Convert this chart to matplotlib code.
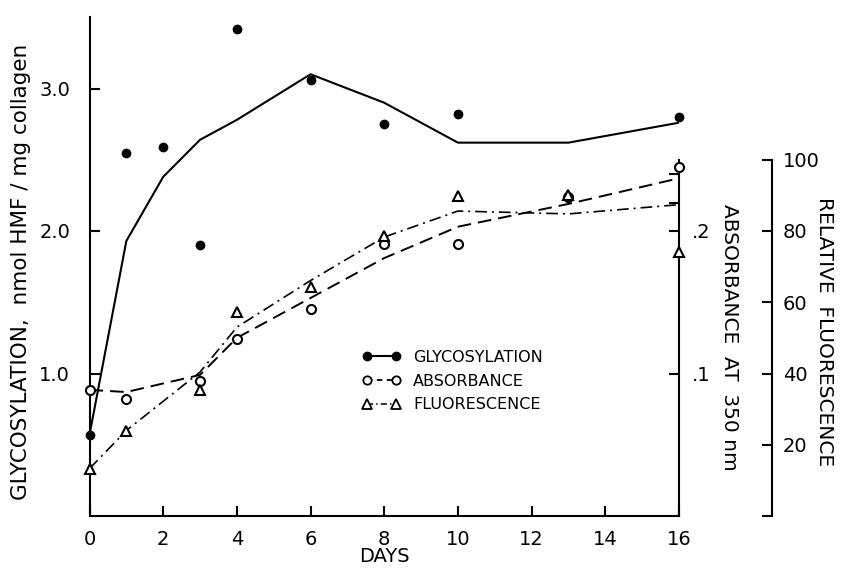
import matplotlib
matplotlib.use('Agg')
import matplotlib.pyplot as plt
from matplotlib.lines import Line2D

# values
days_glyco = [0, 1, 2, 3, 4, 6, 8, 10, 13, 16]
glyco_pts = [0.57, 2.55, 2.59, 1.90, 3.42, 3.06, 2.75, 2.82, 2.24, 2.80]
glyco_fit = [0.57, 1.93, 2.38, 2.64, 2.78, 3.10, 2.90, 2.62, 2.62, 2.76]

days = [0, 1, 3, 4, 6, 8, 10, 13, 16]
absorb_pts = [0.0886, 0.082, 0.095, 0.124, 0.145, 0.191, 0.191, 0.224, 0.245]
absorb_fit = [0.0885, 0.087, 0.099, 0.125, 0.153, 0.181, 0.203, 0.219, 0.237]
fluor_pts = [13.2, 24.0, 35.4, 57.2, 64.4, 78.7, 89.7, 90.0, 74.0]
fluor_fit = [13.3, 24.0, 40.4, 53.0, 66.1, 78.3, 85.6, 84.8, 87.4]

xticks = [0, 2, 4, 6, 8, 10, 12, 14, 16]
glyco_ticks = [1.0, 2.0, 3.0]
absorb_ticks = [0.1, 0.2, 0.22, 0.24]
absorb_ticklabels = ['.1', '.2', '', '']
fluor_ticks = [0, 20, 40, 60, 80, 100]
fluor_ticklabels = ['', '20', '40', '60', '80', '100']

plt.rcParams['font.family'] = 'DejaVu Sans'
fig = plt.figure(figsize=(8.47, 5.71), dpi=100)
W, H = 847, 571
left_px, right_px, bottom_px = 89.5, 679, 516
ax = fig.add_axes([left_px / W, (H - bottom_px) / H, (right_px - left_px) / W, 498.75 / H])
ax2 = ax.twinx()
ax3 = ax.twinx()

lw = 1.5
# glycosylation
ax.plot(days_glyco, glyco_fit, color='black', lw=lw, zorder=3)
ax.plot(days_glyco, glyco_pts, 'o', color='black', ms=6, zorder=4, clip_on=False)
ax.set_xlim(0, 16)
ax.set_ylim(0, 3.5)

# absorbance
ax2.plot(days, absorb_fit, color='black', lw=1.4, dashes=(7, 3.6), zorder=3)
ax2.plot(days, absorb_pts, 'o', mfc='white', mec='black', mew=1.5, ms=6.5, zorder=4, clip_on=False)
ax2.set_ylim(0, 0.35)

# fluorescence
ax3.plot(days, fluor_fit, color='black', lw=1.2, dashes=(7, 3, 1.2, 3), zorder=3)
ax3.plot(days, fluor_pts, '^', mfc='white', mec='black', mew=1.5, ms=7, zorder=4, clip_on=False)
ax3.set_ylim(0, 140)

for a in (ax, ax2, ax3):
    for s in a.spines.values():
        s.set_linewidth(lw)
ax.spines['top'].set_visible(False)
ax.spines['right'].set_visible(False)
for a in (ax2, ax3):
    a.spines['top'].set_visible(False)
    a.spines['left'].set_visible(False)
    a.spines['bottom'].set_visible(False)
ax2.spines['right'].set_bounds(0, 0.25)
ax3.spines['right'].set_position(('axes', 1 + 93 / (right_px - left_px)))
ax3.spines['right'].set_bounds(0, 100)

ax.set_xticks(xticks)
ax.set_yticks(glyco_ticks, ['1.0', '2.0', '3.0'])
ax.tick_params(axis='both', direction='in', length=7, width=lw, labelsize=14)
ax.tick_params(axis='y', pad=14)
ax.tick_params(axis='x', pad=10)
ax.set_xticklabels([str(t) for t in xticks])

ax2.set_yticks(absorb_ticks, absorb_ticklabels)
ax2.tick_params(axis='y', direction='in', length=7, width=lw, labelsize=14, pad=9)
ax3.set_yticks(fluor_ticks, fluor_ticklabels)
ax3.tick_params(axis='y', direction='in', length=7, width=lw, labelsize=14, pad=8)

fig.text(384 / W, 1 - 557 / H, 'DAYS', ha='center', va='center', fontsize=14)
fig.text(21 / W, 1 - 272 / H, 'GLYCOSYLATION,  nmol HMF / mg collagen', rotation=90,
         ha='center', va='center', fontsize=15.5)
fig.text(729 / W, 1 - 337 / H, 'ABSORBANCE  AT  350 nm', rotation=270,
         ha='center', va='center', fontsize=14.5)
fig.text(824 / W, 1 - 332 / H, 'RELATIVE  FLUORESCENCE', rotation=270,
         ha='center', va='center', fontsize=14.5)

handles = [
    Line2D([], [], color='black', lw=lw, marker='o', ms=6),
    Line2D([], [], color='black', lw=1.3, dashes=(3, 2.5), marker='o', mfc='white', mew=1.3, ms=6),
    Line2D([], [], color='black', lw=1.1, dashes=(4, 2, 1, 2), marker='^', mfc='white', mew=1.3, ms=6.5),
]
ax3.legend(handles, ['GLYCOSYLATION', 'ABSORBANCE', 'FLUORESCENCE'], frameon=False,
           loc='center left', bbox_to_anchor=(362 / W, 1 - 381 / H),
           bbox_transform=fig.transFigure, borderpad=0, borderaxespad=0,
           numpoints=2, handlelength=2.4, handletextpad=0.8, labelspacing=0.55,
           fontsize=11.5)

fig.savefig('out.png', dpi=100)
